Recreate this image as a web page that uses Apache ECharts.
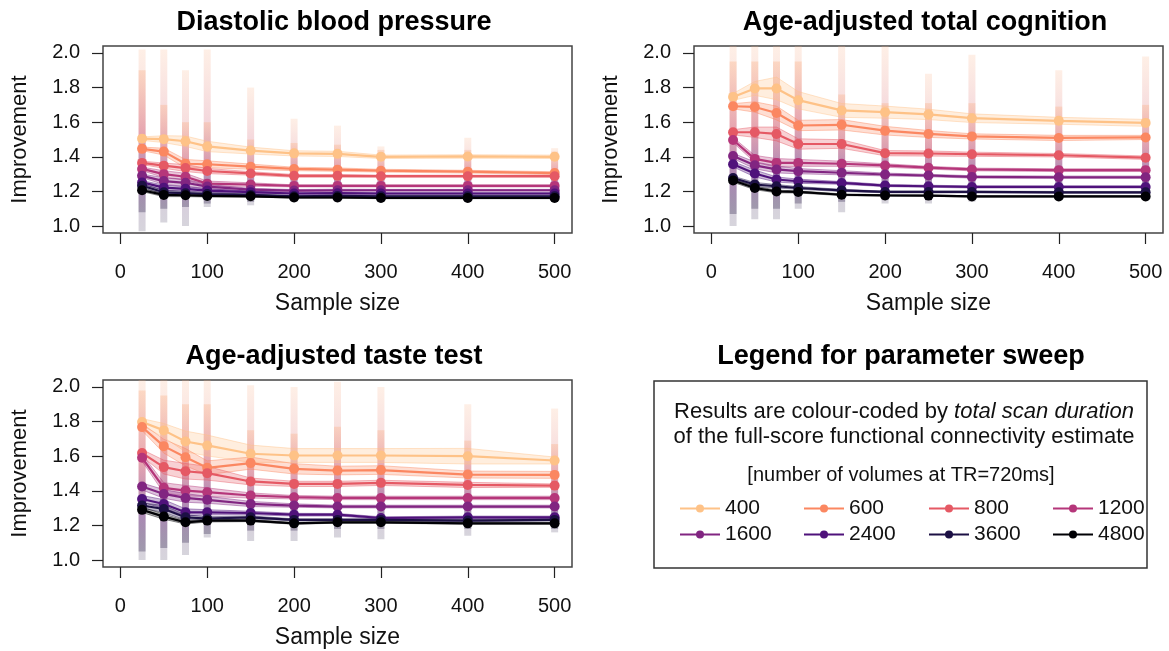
<!DOCTYPE html>
<html>
<head>
<meta charset="utf-8">
<script src="https://cdn.jsdelivr.net/npm/echarts@6/dist/echarts.min.js"></script>
<style>
html,body{margin:0;padding:0;background:#fff;}
#chart{width:1169px;height:651px;}
</style>
</head>
<body>
<div id="chart"></div>
<script>
// ---------------- data ----------------
const sampleSizes = [25, 50, 75, 100, 150, 200, 250, 300, 400, 500];
const volumes = ['400', '600', '800', '1200', '1600', '2400', '3600', '4800'];
const xTicks = [0, 100, 200, 300, 400, 500];
const yTicks = [1.0, 1.2, 1.4, 1.6, 1.8, 2.0];
const panelTitles = ['Diastolic blood pressure', 'Age-adjusted total cognition', 'Age-adjusted taste test'];

// mean improvement per scan duration (rows follow `volumes`)
const diastolicMeans = [
  [1.505, 1.502, 1.49, 1.46, 1.436, 1.42, 1.417, 1.40, 1.402, 1.40],
  [1.446, 1.43, 1.36, 1.357, 1.343, 1.33, 1.326, 1.32, 1.314, 1.306],
  [1.365, 1.349, 1.335, 1.318, 1.304, 1.29, 1.29, 1.288, 1.288, 1.288],
  [1.33, 1.30, 1.285, 1.245, 1.24, 1.232, 1.232, 1.232, 1.232, 1.232],
  [1.29, 1.26, 1.25, 1.228, 1.21, 1.205, 1.207, 1.207, 1.207, 1.207],
  [1.252, 1.222, 1.215, 1.205, 1.196, 1.188, 1.19, 1.188, 1.188, 1.188],
  [1.233, 1.195, 1.19, 1.185, 1.18, 1.172, 1.174, 1.172, 1.172, 1.172],
  [1.207, 1.18, 1.178, 1.174, 1.172, 1.165, 1.165, 1.162, 1.162, 1.162]
];
const diastolicHalfWidth = [
  [0.01, 0.02, 0.03, 0.03, 0.02, 0.015, 0.015, 0.01, 0.01, 0.01],
  [0.01, 0.02, 0.025, 0.02, 0.015, 0.01, 0.01, 0.008, 0.008, 0.008],
  [0.01, 0.015, 0.02, 0.015, 0.01, 0.008, 0.008, 0.006, 0.006, 0.006],
  [0.01, 0.02, 0.02, 0.015, 0.01, 0.006, 0.006, 0.006, 0.006, 0.006],
  [0.01, 0.02, 0.02, 0.012, 0.008, 0.006, 0.006, 0.005, 0.005, 0.005],
  [0.01, 0.015, 0.012, 0.01, 0.006, 0.005, 0.005, 0.005, 0.005, 0.005],
  [0.01, 0.012, 0.01, 0.008, 0.005, 0.004, 0.004, 0.004, 0.004, 0.004],
  [0.008, 0.01, 0.008, 0.006, 0.004, 0.004, 0.004, 0.004, 0.004, 0.004]
];
const diastolicCloudLo = [0.97, 1.02, 1.0, 1.11, 1.12, 1.14, 1.14, 1.14, 1.145, 1.145];
const diastolicCloudHi = [2.02, 2.02, 1.9, 2.02, 1.8, 1.62, 1.58, 1.46, 1.51, 1.45];
const diastolicCoreLo = [1.08, 1.1, 1.11, 1.13, 1.14, 1.15, 1.15, 1.15, 1.15, 1.15];
const diastolicCoreHi = [1.9, 1.7, 1.6, 1.6, 1.5, 1.48, 1.47, 1.44, 1.44, 1.43];

const cognitionMeans = [
  [1.746, 1.795, 1.795, 1.727, 1.668, 1.658, 1.645, 1.623, 1.608, 1.596],
  [1.692, 1.688, 1.653, 1.581, 1.585, 1.551, 1.532, 1.518, 1.509, 1.512],
  [1.542, 1.542, 1.532, 1.474, 1.474, 1.421, 1.419, 1.415, 1.409, 1.395],
  [1.497, 1.388, 1.365, 1.365, 1.36, 1.35, 1.337, 1.327, 1.323, 1.323],
  [1.405, 1.351, 1.327, 1.317, 1.308, 1.298, 1.292, 1.284, 1.282, 1.282],
  [1.357, 1.304, 1.269, 1.259, 1.249, 1.234, 1.23, 1.226, 1.226, 1.226],
  [1.278, 1.24, 1.23, 1.22, 1.206, 1.197, 1.197, 1.197, 1.195, 1.195],
  [1.263, 1.22, 1.2, 1.197, 1.181, 1.177, 1.176, 1.171, 1.171, 1.171]
];
const cognitionHalfWidth = [
  [0.02, 0.04, 0.065, 0.05, 0.04, 0.035, 0.03, 0.025, 0.02, 0.02],
  [0.015, 0.03, 0.04, 0.03, 0.03, 0.025, 0.02, 0.015, 0.015, 0.012],
  [0.015, 0.03, 0.04, 0.03, 0.025, 0.015, 0.015, 0.012, 0.01, 0.01],
  [0.015, 0.02, 0.025, 0.02, 0.015, 0.01, 0.008, 0.008, 0.008, 0.008],
  [0.015, 0.02, 0.02, 0.015, 0.012, 0.008, 0.007, 0.007, 0.007, 0.007],
  [0.015, 0.02, 0.015, 0.012, 0.008, 0.006, 0.006, 0.006, 0.006, 0.006],
  [0.01, 0.012, 0.01, 0.008, 0.006, 0.005, 0.005, 0.005, 0.005, 0.005],
  [0.01, 0.01, 0.008, 0.006, 0.005, 0.004, 0.004, 0.004, 0.004, 0.004]
];
const cognitionCloudLo = [1.0, 1.04, 1.04, 1.1, 1.08, 1.13, 1.13, 1.14, 1.15, 1.15];
const cognitionCloudHi = [2.04, 2.04, 2.04, 2.04, 2.04, 2.04, 1.88, 1.99, 1.9, 1.98];
const cognitionCoreLo = [1.07, 1.1, 1.1, 1.13, 1.14, 1.15, 1.15, 1.15, 1.16, 1.16];
const cognitionCoreHi = [1.95, 1.95, 1.95, 1.95, 1.76, 1.71, 1.71, 1.71, 1.69, 1.7];

const tasteMeans = [
  [1.797, 1.749, 1.685, 1.662, 1.614, 1.604, 1.604, 1.604, 1.6, 1.575],
  [1.768, 1.658, 1.594, 1.533, 1.56, 1.527, 1.517, 1.52, 1.494, 1.492],
  [1.618, 1.537, 1.513, 1.502, 1.454, 1.44, 1.44, 1.446, 1.434, 1.43],
  [1.591, 1.417, 1.401, 1.392, 1.373, 1.363, 1.359, 1.359, 1.359, 1.359],
  [1.425, 1.382, 1.359, 1.348, 1.324, 1.315, 1.309, 1.309, 1.309, 1.309],
  [1.353, 1.324, 1.276, 1.276, 1.272, 1.262, 1.262, 1.243, 1.247, 1.247],
  [1.315, 1.295, 1.247, 1.24, 1.247, 1.232, 1.232, 1.232, 1.228, 1.232],
  [1.29, 1.251, 1.218, 1.228, 1.228, 1.212, 1.218, 1.218, 1.212, 1.212]
];
const tasteHalfWidth = [
  [0.02, 0.04, 0.06, 0.06, 0.05, 0.04, 0.04, 0.04, 0.045, 0.02],
  [0.02, 0.04, 0.05, 0.04, 0.035, 0.03, 0.025, 0.025, 0.02, 0.02],
  [0.02, 0.04, 0.045, 0.04, 0.02, 0.015, 0.015, 0.015, 0.015, 0.01],
  [0.02, 0.03, 0.03, 0.025, 0.015, 0.01, 0.01, 0.01, 0.01, 0.01],
  [0.02, 0.025, 0.025, 0.02, 0.015, 0.01, 0.008, 0.008, 0.008, 0.008],
  [0.02, 0.025, 0.02, 0.015, 0.01, 0.008, 0.007, 0.007, 0.007, 0.007],
  [0.015, 0.02, 0.015, 0.01, 0.008, 0.006, 0.006, 0.006, 0.006, 0.006],
  [0.015, 0.015, 0.01, 0.008, 0.006, 0.005, 0.005, 0.005, 0.005, 0.005]
];
const tasteCloudLo = [1.0, 1.0, 1.03, 1.13, 1.11, 1.11, 1.13, 1.12, 1.14, 1.16];
const tasteCloudHi = [2.04, 2.04, 2.04, 2.04, 2.01, 2.0, 2.03, 2.0, 1.9, 1.875];
const tasteCoreLo = [1.05, 1.07, 1.1, 1.15, 1.17, 1.17, 1.18, 1.18, 1.18, 1.18];
const tasteCoreHi = [1.98, 1.95, 1.9, 1.9, 1.75, 1.73, 1.77, 1.75, 1.69, 1.67];

// ---------------- styles ----------------
const colors = ['#FEC287', '#FB8761', '#E55964', '#B5367A', '#812581', '#4F127B', '#1C1044', '#000004'];
const FONT = '"Liberation Sans", Arial, Helvetica, sans-serif';

const panels = [
  {means: diastolicMeans, hw: diastolicHalfWidth, cLo: diastolicCloudLo, cHi: diastolicCloudHi, kLo: diastolicCoreLo, kHi: diastolicCoreHi},
  {means: cognitionMeans, hw: cognitionHalfWidth, cLo: cognitionCloudLo, cHi: cognitionCloudHi, kLo: cognitionCoreLo, kHi: cognitionCoreHi},
  {means: tasteMeans, hw: tasteHalfWidth, cLo: tasteCloudLo, cHi: tasteCloudHi, kLo: tasteCoreLo, kHi: tasteCoreHi}
];
const gridBoxes = [
  {left: 103, top: 46, width: 469, height: 187},
  {left: 694, top: 46, width: 469, height: 187},
  {left: 103, top: 380, width: 469, height: 187}
];

function hexToRgba(hex, a) {
  const n = parseInt(hex.slice(1), 16);
  return 'rgba(' + ((n >> 16) & 255) + ',' + ((n >> 8) & 255) + ',' + (n & 255) + ',' + a + ')';
}

function cloudRenderer(alpha, w) {
  return function (params, api) {
    const x = api.value(0);
    const top = api.coord([x, api.value(2)]);
    const bot = api.coord([x, api.value(1)]);
    return {
      type: 'rect',
      shape: {x: top[0] - w / 2, y: top[1], width: w, height: bot[1] - top[1]},
      style: {
        fill: new echarts.graphic.LinearGradient(0, 0, 0, 1, [
          {offset: 0, color: 'rgba(250,175,130,' + alpha * 0.8 + ')'},
          {offset: 0.45, color: 'rgba(210,95,115,' + alpha + ')'},
          {offset: 0.75, color: 'rgba(110,45,125,' + alpha + ')'},
          {offset: 1, color: 'rgba(40,30,70,' + alpha * 0.75 + ')'}
        ])
      }
    };
  };
}

function bandRenderer(color) {
  return function (params, api) {
    const a = api.coord([api.value(0), api.value(3)]);
    const b = api.coord([api.value(1), api.value(5)]);
    const c = api.coord([api.value(1), api.value(4)]);
    const d = api.coord([api.value(0), api.value(2)]);
    return {
      type: 'group',
      children: [
        {type: 'polygon', shape: {points: [a, b, c, d]}, style: {fill: hexToRgba(color, 0.28)}},
        {type: 'polyline', shape: {points: [a, b]}, style: {stroke: hexToRgba(color, 0.55), lineWidth: 0.8, fill: null}},
        {type: 'polyline', shape: {points: [d, c]}, style: {stroke: hexToRgba(color, 0.55), lineWidth: 0.8, fill: null}}
      ]
    };
  };
}

const xAxes = [], yAxes = [], series = [];
panels.forEach(function (p, k) {
  xAxes.push({
    type: 'value', gridIndex: k, min: -20, max: 520,
    axisLine: {show: false, onZero: false},
    axisTick: {show: true, inside: false, customValues: xTicks, length: 11, lineStyle: {color: '#222', width: 1.2}},
    axisLabel: {show: true, customValues: xTicks, fontSize: 20, color: '#111', margin: 29, fontFamily: FONT},
    splitLine: {show: false},
    name: 'Sample size', nameLocation: 'middle', nameGap: 59,
    nameTextStyle: {fontSize: 23, color: '#111', fontFamily: FONT}
  });
  yAxes.push({
    type: 'value', gridIndex: k, min: 0.96, max: 2.04,
    axisLine: {show: false, onZero: false},
    axisTick: {show: true, inside: false, customValues: yTicks, length: 11, lineStyle: {color: '#222', width: 1.2}},
    axisLabel: {show: true, customValues: yTicks, fontSize: 20, color: '#111', margin: 23, fontFamily: FONT,
      formatter: function (v) { return Number(v).toFixed(1); }},
    splitLine: {show: false},
    name: 'Improvement', nameLocation: 'middle', nameGap: 72, nameRotate: 90,
    nameTextStyle: {fontSize: 22, color: '#111', fontFamily: FONT}
  });
  // dot clouds
  series.push({
    type: 'custom', name: 'cloud', xAxisIndex: k, yAxisIndex: k, z: 1, silent: true,
    renderItem: cloudRenderer(0.25, 7),
    data: sampleSizes.map(function (x, j) { return [x, p.cLo[j], p.cHi[j]]; })
  });
  series.push({
    type: 'custom', name: 'core', xAxisIndex: k, yAxisIndex: k, z: 1, silent: true,
    renderItem: cloudRenderer(0.42, 7),
    data: sampleSizes.map(function (x, j) { return [x, p.kLo[j], p.kHi[j]]; })
  });
  // confidence bands
  volumes.forEach(function (v, i) {
    const m = p.means[i], h = p.hw[i];
    const segs = [];
    for (let j = 0; j < sampleSizes.length - 1; j++) {
      segs.push([sampleSizes[j], sampleSizes[j + 1], m[j] - h[j], m[j] + h[j], m[j + 1] - h[j + 1], m[j + 1] + h[j + 1]]);
    }
    series.push({
      type: 'custom', name: 'band' + v, xAxisIndex: k, yAxisIndex: k, z: 2, silent: true,
      renderItem: bandRenderer(colors[i]), data: segs
    });
  });
  // mean lines
  volumes.forEach(function (v, i) {
    series.push({
      type: 'line', name: v, xAxisIndex: k, yAxisIndex: k, z: 3,
      symbol: 'circle', symbolSize: 10,
      lineStyle: {color: colors[i], width: 2.2},
      itemStyle: {color: colors[i]},
      emphasis: {disabled: true},
      data: sampleSizes.map(function (x, j) { return [x, p.means[i][j]]; })
    });
  });
});

const legendCols = [[0, 4], [1, 5], [2, 6], [3, 7]];
const legendLefts = [679, 803, 928, 1052];
const legends = legendCols.map(function (col, c) {
  return {
    orient: 'vertical', left: legendLefts[c], top: 498, padding: 0,
    itemWidth: 40, itemHeight: 10, itemGap: 5, selectedMode: false,
    data: col.map(function (i) { return volumes[i]; }),
    textStyle: {fontSize: 21, color: '#111', lineHeight: 21, fontFamily: FONT}
  };
});

const titleStyle = {font: 'bold 27px ' + FONT, fill: '#000', textAlign: 'center', textVerticalAlign: 'middle'};
const graphics = [
  {type: 'text', style: Object.assign({text: panelTitles[0], x: 334, y: 23}, titleStyle)},
  {type: 'text', style: Object.assign({text: panelTitles[1], x: 925, y: 23}, titleStyle)},
  {type: 'text', style: Object.assign({text: panelTitles[2], x: 334, y: 357}, titleStyle)},
  {type: 'text', style: Object.assign({text: 'Legend for parameter sweep', x: 901, y: 357}, titleStyle)},
  {type: 'rect', shape: {x: 654, y: 381, width: 493, height: 187}, style: {fill: null, stroke: '#333', lineWidth: 1.5}},
  {type: 'text', style: {
    text: '{n|Results are colour-coded by }{i|total scan duration}', x: 904, y: 412,
    textAlign: 'center', textVerticalAlign: 'middle',
    rich: {n: {fontSize: 22, fontFamily: FONT, fill: '#111'}, i: {fontSize: 22, fontFamily: FONT, fontStyle: 'italic', fill: '#111'}}
  }},
  {type: 'text', style: {text: 'of the full-score functional connectivity estimate', x: 904, y: 437,
    textAlign: 'center', textVerticalAlign: 'middle', font: '22px ' + FONT, fill: '#111'}},
  {type: 'text', style: {text: '[number of volumes at TR=720ms]', x: 901, y: 475,
    textAlign: 'center', textVerticalAlign: 'middle', font: '20px ' + FONT, fill: '#111'}}
];

const chart = echarts.init(document.getElementById('chart'), null, {renderer: 'canvas'});
chart.setOption({
  animation: false,
  backgroundColor: '#fff',
  textStyle: {fontFamily: FONT},
  grid: gridBoxes.map(function (g) {
    return Object.assign({show: true, borderColor: '#444', borderWidth: 1.5, backgroundColor: 'transparent', containLabel: false}, g);
  }),
  xAxis: xAxes,
  yAxis: yAxes,
  legend: legends,
  graphic: graphics,
  series: series
});
</script>
</body>
</html>
